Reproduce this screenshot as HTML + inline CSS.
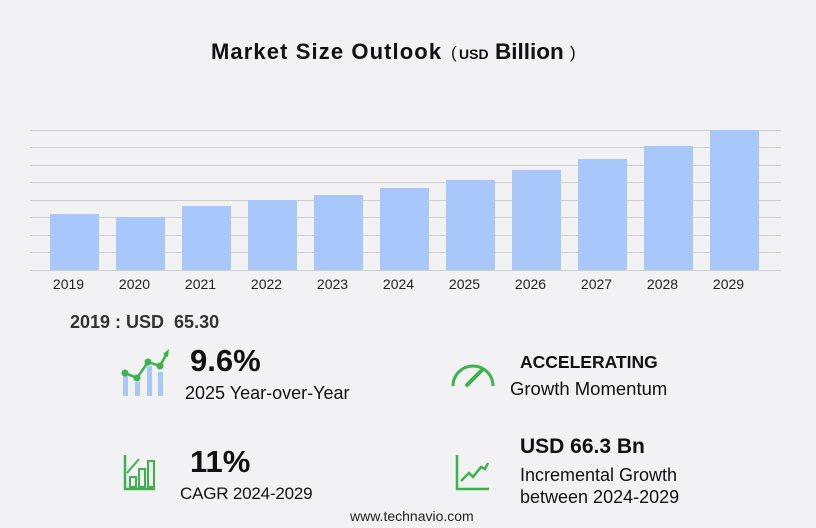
<!DOCTYPE html>
<html><head><meta charset="utf-8"><style>
body{margin:0;width:816px;height:528px;background:#f2f2f4;font-family:"Liberation Sans",sans-serif;position:relative;overflow:hidden;color:#111}
.t{position:absolute;white-space:nowrap}
.grid{position:absolute;left:30px;width:751px;height:1px;background:#cfcfd3}
.bar{position:absolute;width:49px;background:#a8c8fb}
.yr{position:absolute;top:276px;width:49px;text-align:center;font-size:14px;color:#222}
</style></head><body>
<div class="t" style="left:211px;top:39px;font-size:22px;font-weight:bold;letter-spacing:1.1px">Market Size Outlook</div>
<div class="t" style="left:451px;top:43px;font-size:17px">(</div>
<div class="t" style="left:459px;top:46px;font-size:14px;font-weight:bold">USD</div>
<div class="t" style="left:495px;top:39px;font-size:22.5px;font-weight:bold">Billion</div>
<div class="t" style="left:570px;top:43px;font-size:17px">)</div>

<div class="grid" style="top:130px"></div><div class="grid" style="top:147px"></div><div class="grid" style="top:165px"></div><div class="grid" style="top:182px"></div><div class="grid" style="top:200px"></div><div class="grid" style="top:217px"></div><div class="grid" style="top:235px"></div><div class="grid" style="top:252px"></div><div class="grid" style="top:270px"></div>

<div class="bar" style="left:50px;top:214px;height:56px"></div>
<div class="bar" style="left:116px;top:217px;height:53px"></div>
<div class="bar" style="left:182px;top:206px;height:64px"></div>
<div class="bar" style="left:248px;top:200px;height:70px"></div>
<div class="bar" style="left:314px;top:195px;height:75px"></div>
<div class="bar" style="left:380px;top:188px;height:82px"></div>
<div class="bar" style="left:446px;top:180px;height:90px"></div>
<div class="bar" style="left:512px;top:170px;height:100px"></div>
<div class="bar" style="left:578px;top:159px;height:111px"></div>
<div class="bar" style="left:644px;top:146px;height:124px"></div>
<div class="bar" style="left:710px;top:130px;height:140px"></div>

<div class="yr" style="left:44px">2019</div><div class="yr" style="left:110px">2020</div><div class="yr" style="left:176px">2021</div><div class="yr" style="left:242px">2022</div><div class="yr" style="left:308px">2023</div><div class="yr" style="left:374px">2024</div><div class="yr" style="left:440px">2025</div><div class="yr" style="left:506px">2026</div><div class="yr" style="left:572px">2027</div><div class="yr" style="left:638px">2028</div><div class="yr" style="left:704px">2029</div>

<div class="t" style="left:70px;top:312px;font-size:18px;font-weight:bold;color:#333">2019 : USD&nbsp; 65.30</div>

<svg style="position:absolute;left:118px;top:348px" width="52" height="50">
<rect x="5" y="28" width="5" height="20" fill="#a8c8fb"/><rect x="17" y="34" width="5" height="14" fill="#a8c8fb"/><rect x="29" y="18" width="5" height="30" fill="#a8c8fb"/><rect x="40" y="24" width="5" height="24" fill="#a8c8fb"/>
<polyline points="7,25 19,30 30,14 42,18 49,5" fill="none" stroke="#3cb34a" stroke-width="2.5"/>
<circle cx="7" cy="25" r="3.5" fill="#3cb34a"/><circle cx="19" cy="30" r="3.5" fill="#3cb34a"/><circle cx="30" cy="14" r="3.5" fill="#3cb34a"/><circle cx="42" cy="18" r="3.5" fill="#3cb34a"/>
<polygon points="45,6 51,1 50,9" fill="#3cb34a"/></svg>
<div class="t" style="left:190px;top:343px;font-size:31px;font-weight:bold">9.6%</div>
<div class="t" style="left:185px;top:383px;font-size:18px">2025 Year-over-Year</div>

<svg style="position:absolute;left:450px;top:360px" width="46" height="28">
<path d="M3,26 A20,20 0 0 1 43,26" fill="none" stroke="#3cb34a" stroke-width="3"/>
<line x1="17" y1="25" x2="32" y2="10" stroke="#3cb34a" stroke-width="4" stroke-linecap="round"/></svg>
<div class="t" style="left:520px;top:352px;font-size:17.5px;font-weight:bold">ACCELERATING</div>
<div class="t" style="left:510px;top:378px;font-size:18.5px">Growth Momentum</div>

<svg style="position:absolute;left:123px;top:455px" width="34" height="36">
<polyline points="2,0 2,34 32,34" fill="none" stroke="#3cb34a" stroke-width="2.5"/>
<rect x="7" y="22" width="6" height="10" fill="none" stroke="#3cb34a" stroke-width="2"/><rect x="16" y="14" width="6" height="18" fill="none" stroke="#3cb34a" stroke-width="2"/><rect x="25" y="6" width="6" height="26" fill="none" stroke="#3cb34a" stroke-width="2"/>
<line x1="4" y1="18" x2="16" y2="4" stroke="#3cb34a" stroke-width="2"/></svg>
<div class="t" style="left:190px;top:444px;font-size:31px;font-weight:bold">11%</div>
<div class="t" style="left:180px;top:484px;font-size:17px;letter-spacing:-0.2px">CAGR 2024-2029</div>

<svg style="position:absolute;left:455px;top:455px" width="36" height="36">
<polyline points="2,0 2,34 34,34" fill="none" stroke="#3cb34a" stroke-width="2.5"/>
<polyline points="6,26 14,18 18,22 26,12 30,14 33,8" fill="none" stroke="#3cb34a" stroke-width="2.5"/></svg>
<div class="t" style="left:520px;top:435px;font-size:21px;font-weight:bold">USD 66.3 Bn</div>
<div class="t" style="left:520px;top:465px;font-size:18px">Incremental Growth</div>
<div class="t" style="left:520px;top:487px;font-size:18px">between 2024-2029</div>

<div class="t" style="left:350px;top:508px;font-size:14px;color:#222">www.technavio.com</div>
</body></html>
